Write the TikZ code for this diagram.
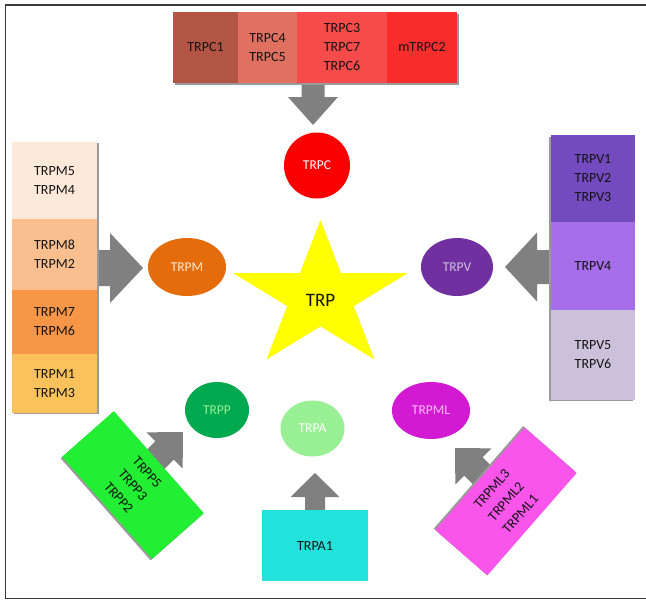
\documentclass[tikz,border=0pt]{standalone}
\usepackage{fontspec}
\setmainfont{Carlito}
\usetikzlibrary{shapes.geometric}
\definecolor{framec}{HTML}{3A3A3A}
\definecolor{arrowgray}{HTML}{808080}
\definecolor{shadowgray}{HTML}{9A9A9A}
\definecolor{cA}{HTML}{B25545}
\definecolor{cB}{HTML}{E07060}
\definecolor{cC}{HTML}{F54B4B}
\definecolor{cD}{HTML}{FA2D2D}
\definecolor{cTRPC}{HTML}{FA0000}
\definecolor{mA}{HTML}{FDE9D9}
\definecolor{mB}{HTML}{FBBF8F}
\definecolor{mC}{HTML}{F79646}
\definecolor{mD}{HTML}{FBC15A}
\definecolor{cTRPM}{HTML}{E46C0A}
\definecolor{vA}{HTML}{734BBE}
\definecolor{vB}{HTML}{A66EE8}
\definecolor{vC}{HTML}{CCC1DB}
\definecolor{cTRPV}{HTML}{7030A0}
\definecolor{pbox}{HTML}{22EE33}
\definecolor{cTRPP}{HTML}{00A84F}
\definecolor{cTRPA}{HTML}{99F094}
\definecolor{abox}{HTML}{22E3DB}
\definecolor{cTRPML}{HTML}{D21AD2}
\definecolor{mlbox}{HTML}{FA55EA}
\definecolor{staryellow}{HTML}{FFFF00}
\definecolor{textdark}{HTML}{141414}
\newcommand{\blockarrow}[6]{% tip, angle, length, head length, shaft width, head width
  \fill[arrowgray, shift={(#1)}, rotate=#2]
    (0,0) -- ({-#4},{#6/2}) -- ({-#4},{#5/2}) -- ({-#3},{#5/2})
    -- ({-#3},{-#5/2}) -- ({-#4},{-#5/2}) -- ({-#4},{-#6/2}) -- cycle;}
\begin{document}
\begin{tikzpicture}[x=1pt,y=-1pt,
  seg/.style={rectangle, inner sep=0pt, align=center, text=textdark,
    font=\fontsize{14}{19}\selectfont},
  oval/.style={ellipse, inner sep=0pt, text=white,
    font=\fontsize{13.5}{16}\selectfont},
  shadowbox/.style={fill=shadowgray}]
\useasboundingbox (0,0) rectangle (646,600);
\fill[white] (0,0) rectangle (646,600);
% frame
\draw[framec, line width=1.4pt] (646,5) -- (5.5,5) -- (5.5,598.5) -- (646,598.5);

% block arrows (drawn first so boxes hide the shaft ends)
\blockarrow{313,125}{-90}{46}{28}{23}{50}
\blockarrow{143,268}{0}{50}{33}{36}{70}
\blockarrow{505,267}{180}{50}{32}{34}{69}
\blockarrow{315,473}{90}{42}{24}{20}{49}
\blockarrow{183,432}{45}{58}{26}{26}{51}
\blockarrow{455,448}{135}{58}{26}{26}{51}

% shadows
\fill[shadowgray] (175,14) rectangle (459,85);
\fill[shadowgray] (14,143) rectangle (99,414);
\fill[shadowgray] (549,137) rectangle (633,401);

% TRPC row
\node[seg, fill=cA, minimum width=65pt, minimum height=71pt] (c1) at (205.5,47.5) {TRPC1};
\node[seg, fill=cB, minimum width=59pt, minimum height=71pt] (c45) at (267.5,47.5) {TRPC4\\TRPC5};
\node[seg, fill=cC, minimum width=90pt, minimum height=71pt] (c376) at (342,47.5) {TRPC3\\TRPC7\\TRPC6};
\node[seg, fill=cD, minimum width=70pt, minimum height=71pt] (cm2) at (422,47.5) {mTRPC2};

% TRPM column
\node[seg, fill=mA, minimum width=85pt, minimum height=77pt] (m54) at (54.5,180.5) {TRPM5\\TRPM4};
\node[seg, fill=mB, minimum width=85pt, minimum height=71pt] (m82) at (54.5,254.5) {TRPM8\\TRPM2};
\node[seg, fill=mC, minimum width=85pt, minimum height=64pt] (m76) at (54.5,322) {TRPM7\\TRPM6};
\node[seg, fill=mD, minimum width=85pt, minimum height=59pt] (m13) at (54.5,383.5) {TRPM1\\TRPM3};

% TRPV column
\node[seg, fill=vA, minimum width=84pt, minimum height=87pt] (v123) at (593,178.5) {TRPV1\\TRPV2\\TRPV3};
\node[seg, fill=vB, minimum width=84pt, minimum height=88pt] (v4) at (593,266) {TRPV4};
\node[seg, fill=vC, minimum width=84pt, minimum height=90pt] (v56) at (593,355) {TRPV5\\TRPV6};

% TRPA1 box
\node[seg, fill=abox, minimum width=106pt, minimum height=71pt] (a1) at (315,545.5) {TRPA1};

% rotated boxes
\node[rectangle, shadowbox, rotate=-48.6, minimum width=136pt, minimum height=69pt] at (131.5,486.5) {};
\node[seg, fill=pbox, rotate=-48.6, minimum width=136pt, minimum height=69pt] (pbx) at (133,485) {TRPP5\\TRPP3\\TRPP2};
\node[rectangle, shadowbox, rotate=48.9, minimum width=136pt, minimum height=69pt] at (504.5,500) {};
\node[seg, fill=mlbox, rotate=48.9, minimum width=136pt, minimum height=69pt] (mlbx) at (506,501.5) {TRPML3\\TRPML2\\TRPML1};

% subfamily ovals
\node[oval, fill=cTRPC, minimum width=66pt, minimum height=66pt] (trpc) at (317,165.5) {TRPC};
\node[oval, fill=cTRPM, text=mA, minimum width=78pt, minimum height=58pt] (trpm) at (187,267) {TRPM};
\node[oval, fill=cTRPV, text=vC, minimum width=72pt, minimum height=58pt] (trpv) at (457,267) {TRPV};
\node[oval, fill=cTRPP, text=cTRPA, minimum width=64pt, minimum height=56pt] (trpp) at (217,410) {TRPP};
\node[oval, fill=cTRPA, minimum width=64pt, minimum height=56pt] (trpa) at (312.5,428.5) {TRPA};
\node[oval, fill=cTRPML, text=mlbox!40, minimum width=78pt, minimum height=57pt] (trpml) at (431,410.5) {TRPML};

% star
\fill[staryellow, shift={(320.5,297)}, xscale=1.19]
  (-90:77) -- (-54:29.4) -- (-18:77) -- (18:29.4) -- (54:77) -- (90:29.4)
  -- (126:77) -- (162:29.4) -- (198:77) -- (234:29.4) -- cycle;
\node[text=textdark, font=\fontsize{19}{22}\selectfont] (trp) at (320.5,300) {TRP};
\end{tikzpicture}
\end{document}
